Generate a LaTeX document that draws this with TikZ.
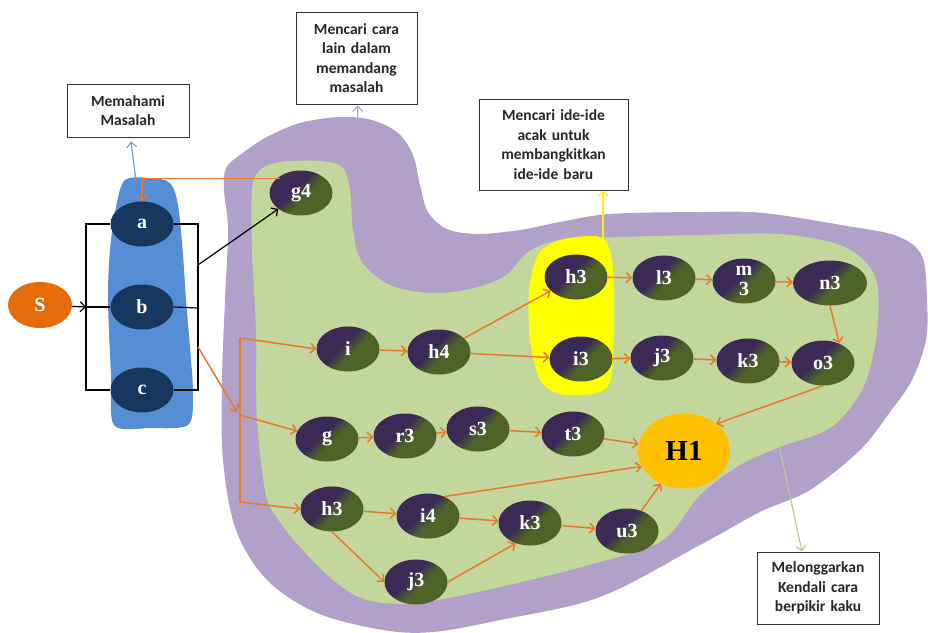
\documentclass[tikz,border=0pt]{standalone}
\usepackage{fontspec}
\setmainfont{Liberation Serif}
\newfontfamily\boxfont{Carlito}
\usetikzlibrary{arrows.meta,shapes.geometric}
\definecolor{lav}{HTML}{B1A0C7}
\definecolor{olv}{HTML}{C3D69B}
\definecolor{blob}{HTML}{558ED5}
\definecolor{navy}{HTML}{17375E}
\definecolor{sor}{HTML}{E46C0A}
\definecolor{hone}{HTML}{FFC000}
\definecolor{aor}{HTML}{E8782A}
\definecolor{ndpurple}{HTML}{3B2A55}
\definecolor{ndgreen}{HTML}{4F6228}
\definecolor{ylw}{HTML}{FFFF00}
\definecolor{bluearr}{HTML}{7A9CD3}
\definecolor{lavarr}{HTML}{A9A6CB}
\definecolor{grnarr}{HTML}{B8C99A}
\pgfdeclareverticalshading{ndshade}{100bp}{color(0bp)=(ndgreen); color(45bp)=(ndgreen); color(56bp)=(ndpurple); color(100bp)=(ndpurple)}
\begin{document}
\begin{tikzpicture}[x=1pt,y=-1pt,
  nd/.style={ellipse, shade, shading=ndshade, shading angle=45, minimum width=63pt, minimum height=45pt, inner sep=0pt, text=white, font=\bfseries\fontsize{20}{21}\selectfont},
  abc/.style={ellipse, fill=navy, minimum width=63pt, minimum height=45pt, inner sep=0pt, text=white, font=\bfseries\fontsize{20}{21}\selectfont},
  lbl/.style={draw=black!80, line width=1pt, fill=white, font=\boxfont\bfseries\fontsize{15.5}{19.5}\selectfont, align=center, text=black!85, inner xsep=1pt, inner ysep=0pt},
  oa/.style={draw=aor, line width=1.5pt, -{Straight Barb[length=5pt,width=10pt]}},
  ol/.style={draw=aor, line width=1.5pt},
  bk/.style={draw=black, line width=1.2pt},
  bka/.style={draw=black, line width=1.2pt, -{Straight Barb[length=5pt,width=10pt]}},
]
\useasboundingbox (0,0) rectangle (928,632);
% purple outer region
\fill[lav] plot[smooth cycle, tension=0.55] coordinates {(226,168) (240,155) (265,138) (300,123) (340,117) (372,120) (398,133) (413,155) (420,185) (428,212) (447,229) (478,234) (520,230) (560,222) (610,214) (700,212) (763,213) (847,226) (897,236) (922,256) (927,300) (926,340) (912,380) (890,412) (860,450) (810,490) (760,512) (700,545) (600,597) (500,620) (433,632) (383,630) (317,613) (267,580) (236,530) (223,460) (222,380) (225,300) (228,230) (224,190)};
% green inner region
\fill[olv] plot[smooth cycle, tension=0.55] coordinates {(252,190) (260,170) (280,162) (320,161) (342,167) (350,190) (353,230) (362,262) (390,285) (430,293) (470,289) (505,276) (528,252) (560,240) (620,237) (700,235) (780,234) (840,245) (868,265) (878,290) (876,340) (862,390) (830,428) (780,447) (740,465) (700,495) (663,540) (600,562) (500,587) (417,603) (367,600) (333,580) (300,547) (280,522) (266,495) (257,420) (256,330) (252,250)};
% yellow blob
\fill[ylw] plot[smooth cycle, tension=0.5] coordinates {(560,240) (600,237) (612,260) (614,320) (611,378) (597,393) (560,394) (540,380) (530,340) (529,290) (538,255)};
% blue blob
\fill[blob] plot[smooth cycle, tension=0.5] coordinates {(125,180) (150,178) (170,183) (178,205) (183,255) (186,300) (190,347) (193,395) (188,425) (150,428) (114,425) (111,375) (108,300) (110,250) (116,207)};

% boxes
\node[lbl, text width=120pt, minimum height=53pt] (bx1) at (128,110.5) {Memahami\\Masalah};
\node[lbl, text width=119pt, minimum height=92pt] (bx2) at (356.5,58) {Mencari cara\\lain dalam\\memandang\\masalah};
\node[lbl, text width=147pt, minimum height=91pt] (bx3) at (553.5,144.5) {Mencari ide-ide\\acak untuk\\membangkitkan\\ide-ide baru};
\node[lbl, text width=120pt, minimum height=72pt] (bx4) at (818,588) {Melonggarkan\\Kendali cara\\berpikir kaku};

% nodes
\node[ellipse, fill=sor, minimum width=64pt, minimum height=46pt, inner sep=0pt, text=white, font=\bfseries\fontsize{20}{21}\selectfont] (S) at (40,305) {S};
\node[abc] (a) at (142,224) {a};
\node[abc] (b) at (142,307) {b};
\node[abc] (c) at (142,390) {c};
\node[nd] (g4) at (301,193) {g4};
\node[nd] (i) at (348,349) {i};
\node[nd] (h4) at (439,352) {h4};
\node[nd] (h3a) at (576,277) {h3};
\node[nd] (i3) at (581,359) {i3};
\node[nd] (l3) at (664,278) {l3};
\node[nd, align=center, font=\bfseries\fontsize{20}{20}\selectfont] (m3) at (744,281) {m\\3};
\node[nd, minimum width=74pt] (n3) at (830,283) {n3};
\node[nd] (j3a) at (662,358) {j3};
\node[nd] (k3a) at (748,361) {k3};
\node[nd] (o3) at (823,363) {o3};
\node[nd] (g) at (327,439) {g};
\node[nd] (r3) at (405,436) {r3};
\node[nd] (s3) at (478,429) {s3};
\node[nd] (t3) at (573,434) {t3};
\node[ellipse, fill=hone, minimum width=92pt, minimum height=75pt, inner sep=0pt, font=\bfseries\fontsize{29}{30}\selectfont] (H1) at (684,451) {H1};
\node[nd] (h3b) at (332,509) {h3};
\node[nd] (i4) at (428,516) {i4};
\node[nd] (k3b) at (530,523) {k3};
\node[nd] (u3) at (627,531) {u3};
\node[nd] (j3b) at (416,582) {j3};

% coordinates
\coordinate (la) at (86,224); \coordinate (lb) at (86,307); \coordinate (lc) at (86,390);
\coordinate (ra) at (198,224); \coordinate (rb) at (198,308); \coordinate (rc) at (198,390);
\coordinate (rg) at (198,265); \coordinate (d0) at (198,347); \coordinate (d1) at (237,412);
\coordinate (br1) at (240,338); \coordinate (br2) at (240,415); \coordinate (br3) at (240,502);
\coordinate (bt) at (136,181); \coordinate (pt) at (358,121); \coordinate (yt) at (603,238);
\coordinate (gt) at (779,445); \coordinate (ga) at (142,178.5);

% connectors to boxes
\draw[bluearr, line width=1.2pt, -{Straight Barb[length=5pt,width=10pt]}] (bt) -- ([shift={(3,4)}]bx1.south);
\draw[lavarr, line width=1.2pt, -{Straight Barb[length=5pt,width=10pt]}] (pt) -- ([shift={(1,1)}]bx2.south);
\draw[ylw!90!orange, line width=1.2pt, -{Straight Barb[length=5pt,width=10pt]}] (yt) -- (yt |- bx3.south);
\draw[grnarr, line width=1.2pt, -{Straight Barb[length=5pt,width=10pt]}] (gt) -- ([xshift=-16pt]bx4.north);

% brackets
\draw[bk] (a.west) -- (la) -- (lc) -- (c.west);
\draw[bk] (lb) -- (b.west);
\draw[bka] (S) -- (lb);
\draw[bk] (a.east) -- (ra) -- (rc) -- (c.east);
\draw[bk] (b.east) -- (rb);
\draw[bka] (rg) -- (g4);

% orange connectors
\draw[ol] (g4.140 |- ga) -- (ga);
\draw[oa] (ga) -- (a.north);
\draw[oa] (d0) -- (d1);
\draw[ol] (br1) -- (br3);
\draw[oa] (br1) -- (i.west);
\draw[oa] (br2) -- (g.165);
\draw[oa] (br3) -- (h3b.west);
\draw[oa] (i) -- (h4);
\draw[oa] (h4) -- (h3a);
\draw[oa] (h4) -- (i3);
\draw[oa] (h3a) -- (l3);
\draw[oa] (l3) -- (m3);
\draw[oa] (m3) -- (n3);
\draw[oa] (n3.south) -- (o3.50);
\draw[oa] (i3) -- (j3a);
\draw[oa] (j3a) -- (k3a);
\draw[oa] (k3a) -- (o3);
\draw[oa] (o3.south) -- (H1.40);
\draw[oa] (g) -- (r3);
\draw[oa] (r3) -- (s3);
\draw[oa] (s3) -- (t3);
\draw[oa] (t3) -- (H1);
\draw[oa] (h3b) -- (i4);
\draw[oa] (h3b.south) -- (j3b.west);
\draw[oa] (i4.50) -- (H1.200);
\draw[oa] (i4) -- (k3b);
\draw[oa] (j3b.east) -- (k3b.235);
\draw[oa] (k3b) -- (u3);
\draw[oa] (u3) -- (H1);
\end{tikzpicture}
\end{document}
